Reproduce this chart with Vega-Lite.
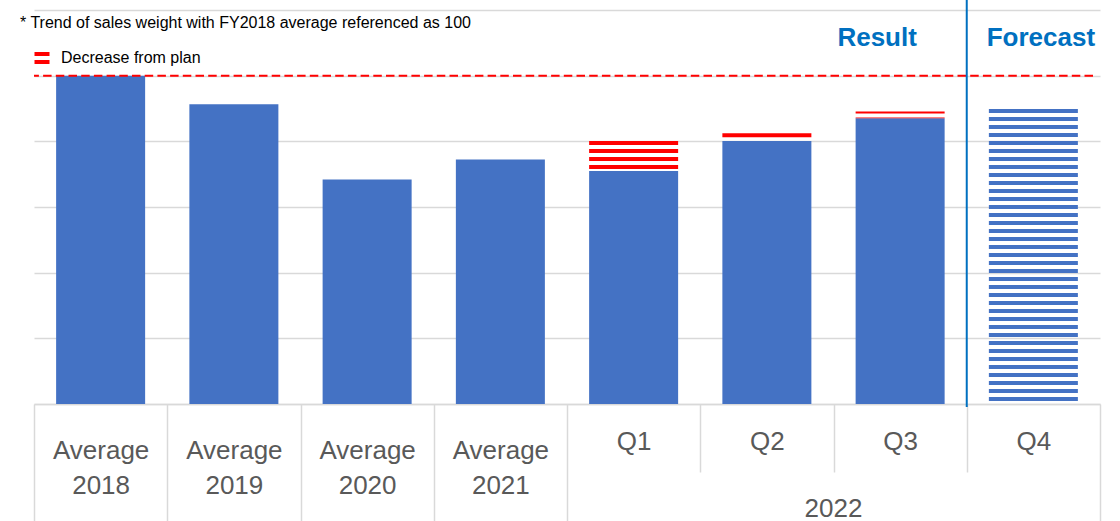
{
  "$schema": "https://vega.github.io/schema/vega-lite/v6.json",
  "width": 1066,
  "height": 404,
  "autosize": {"type": "none"},
  "padding": {"left": 34, "top": 0, "right": 20, "bottom": 117},
  "background": "#ffffff",
  "config": {"view": {"stroke": null}, "font": "Liberation Sans"},
  "title": {
    "text": "* Trend of sales weight with FY2018 average referenced as 100",
    "anchor": "start",
    "frame": "group",
    "fontSize": 16,
    "fontWeight": "normal",
    "color": "#000000",
    "offset": 0,
    "dx": -14,
    "dy": 45,
    "baseline": "alphabetic"
  },
  "datasets": {
    "bars": [
      {"category": "Average 2018", "actual": 100},
      {"category": "Average 2019", "actual": 91.3},
      {"category": "Average 2020", "actual": 68.4},
      {"category": "Average 2021", "actual": 74.5},
      {"category": "Q1", "actual": 71.0, "plan": 80.1},
      {"category": "Q2", "actual": 80.1, "plan": 82.5},
      {"category": "Q3", "actual": 87.0, "plan": 89.1},
      {"category": "Q4", "forecast": 89.85}
    ],
    "notes": [
      {"category": "Q3", "label": "Result"},
      {"category": "Q4", "label": "Forecast"}
    ],
    "legend": [
      {"category": "Q1", "series": "Decrease from plan"}
    ],
    "divider": [
      {"category": "Q4"}
    ]
  },
  "data": {"name": "bars"},
  "encoding": {
    "x": {
      "field": "category",
      "type": "nominal",
      "sort": null,
      "scale": {
        "domain": ["Average 2018", "Average 2019", "Average 2020", "Average 2021", "Q1", "Q2", "Q3", "Q4"],
        "paddingInner": 0,
        "paddingOuter": 0
      },
      "axis": {
        "title": "2022",
        "titleX": 799,
        "titleY": 112,
        "titleAlign": "center",
        "titleAnchor": null,
        "titleBaseline": "alphabetic",
        "titleFontSize": 26,
        "titleFontWeight": "normal",
        "titleColor": "#595959",
        "labelAngle": 0,
        "labelExpr": "split(datum.label, ' ')",
        "labelFontSize": 26,
        "labelColor": "#595959",
        "labelLineHeight": 35,
        "labelBaseline": "alphabetic",
        "labelOverlap": false,
        "labelLimit": 0,
        "labelPadding": {
          "condition": [
            {"test": "indexof(['Q1','Q2','Q3'], datum.value) >= 0", "value": -23},
            {"test": "datum.value == 'Q4'", "value": -72}
          ],
          "value": -63
        },
        "domainColor": "#D9D9D9",
        "domainWidth": 1.5,
        "ticks": true,
        "tickBand": "extent",
        "tickColor": "#D9D9D9",
        "tickWidth": 1.5,
        "tickSize": {
          "condition": {"test": "indexof(['Q1','Q2','Q3'], datum.value) >= 0", "value": 68},
          "value": 117
        }
      }
    }
  },
  "layer": [
    {
      "transform": [{"filter": "datum.actual != null"}],
      "mark": {"type": "bar", "width": {"band": 0.668}, "color": "#4472C4"},
      "encoding": {
        "y": {
          "field": "actual",
          "type": "quantitative",
          "scale": {"domain": [0, 123.05], "nice": false, "zero": true},
          "axis": {
            "title": null,
            "values": [0, 20, 40, 60, 80, 100, 120],
            "labels": false,
            "ticks": false,
            "domain": false,
            "grid": true,
            "gridColor": "#D9D9D9",
            "gridWidth": 1.5
          }
        }
      }
    },
    {
      "transform": [{"filter": "datum.plan != null && datum.category != 'Q3'"}],
      "mark": {"type": "rule", "color": "#FF0000", "strokeWidth": 89, "strokeDash": [4, 4]},
      "encoding": {
        "y": {"field": "plan", "type": "quantitative"},
        "y2": {"field": "actual"}
      }
    },
    {
      "transform": [{"filter": "datum.category == 'Q3'"}],
      "mark": {"type": "rule", "color": "#FF0000", "strokeWidth": 89, "strokeDash": [4, 4], "strokeDashOffset": 2},
      "encoding": {
        "y": {"field": "plan", "type": "quantitative"},
        "y2": {"field": "actual"}
      }
    },
    {
      "transform": [{"filter": "datum.forecast != null"}],
      "mark": {"type": "rule", "color": "#4472C4", "strokeWidth": 89, "strokeDash": [4, 4]},
      "encoding": {
        "y": {"field": "forecast", "type": "quantitative"},
        "y2": {"datum": 0}
      }
    },
    {
      "data": {"values": [{}]},
      "mark": {"type": "rule", "color": "#FF0000", "strokeWidth": 2, "strokeDash": [8.5, 4.2], "xOffset": -7, "x2Offset": 20},
      "encoding": {
        "x": null,
        "y": {"datum": 100, "type": "quantitative"}
      }
    },
    {
      "data": {"name": "divider"},
      "mark": {"type": "rule", "color": "#0070C0", "strokeWidth": 2, "y2Offset": 3},
      "encoding": {
        "x": {"field": "category", "type": "nominal", "bandPosition": 0},
        "y": {"datum": 123.05, "type": "quantitative"},
        "y2": {"datum": 0}
      }
    },
    {
      "data": {"name": "notes"},
      "transform": [{"filter": "datum.label == 'Result'"}],
      "mark": {"type": "text", "fontSize": 26, "fontWeight": "bold", "color": "#0070C0", "baseline": "alphabetic", "align": "center", "dx": -23},
      "encoding": {
        "text": {"field": "label"},
        "y": {"datum": 108.9, "type": "quantitative"}
      }
    },
    {
      "data": {"name": "notes"},
      "transform": [{"filter": "datum.label == 'Forecast'"}],
      "mark": {"type": "text", "fontSize": 26, "fontWeight": "bold", "color": "#0070C0", "baseline": "alphabetic", "align": "center", "dx": 7.5},
      "encoding": {
        "text": {"field": "label"},
        "y": {"datum": 108.9, "type": "quantitative"}
      }
    },
    {
      "data": {"name": "legend"},
      "mark": {"type": "text", "text": ""},
      "encoding": {
        "y": {"datum": 0, "type": "quantitative"},
        "color": {
          "field": "series",
          "type": "nominal",
          "scale": {"range": ["#FF0000"]},
          "legend": {
            "orient": "none",
            "legendX": 0,
            "legendY": 50,
            "title": null,
            "padding": 0,
            "symbolType": "M-1,-0.8H1V-0.27H-1Z M-1,0.27H1V0.8H-1Z",
            "symbolSize": 225,
            "symbolStrokeWidth": 0,
            "symbolFillColor": "#FF0000",
            "labelFontSize": 16,
            "labelColor": "#000000",
            "labelOffset": 11
          }
        }
      }
    }
  ]
}
